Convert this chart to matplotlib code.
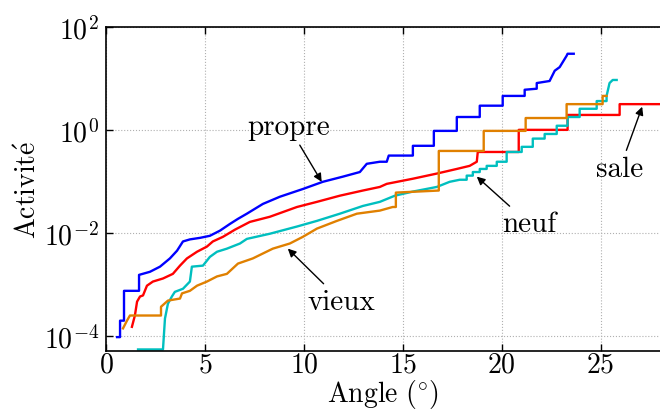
import numpy as np
import matplotlib
matplotlib.use("Agg")
import matplotlib.pyplot as plt

plt.rcParams['font.family'] = ['cmr10', 'DejaVu Serif']
plt.rcParams['mathtext.fontset'] = 'cm'
plt.rcParams['axes.formatter.use_mathtext'] = True
plt.rcParams['axes.unicode_minus'] = False

# Data: angle (degrees) and log10 of activity; repeated x values mark vertical jumps
propre_x = [0.56, 0.71, 0.71, 0.91, 0.91, 1.67, 1.67, 2.22, 2.73, 3.23, 3.59, 3.89, 4.24, 4.75, 5.25, 5.76,
            6.26, 6.67, 7.12, 7.93, 8.79, 9.95, 10.96, 11.97, 12.83, 13.18, 13.84, 14.19, 14.29, 15.51, 15.51,
            16.57, 16.57, 17.73, 17.73, 18.89, 18.89, 20.05, 20.05, 21.16, 21.16, 21.77, 21.77, 22.42, 22.68,
            22.93, 23.28, 23.33, 23.64]
propre_log = [-4.03, -4.03, -3.71, -3.71, -3.13, -3.13, -2.82, -2.76, -2.66, -2.50, -2.35, -2.17, -2.13, -2.10,
              -2.06, -1.96, -1.83, -1.73, -1.63, -1.44, -1.30, -1.15, -1.01, -0.91, -0.82, -0.66, -0.62, -0.62,
              -0.50, -0.50, -0.31, -0.31, -0.02, -0.02, 0.25, 0.25, 0.47, 0.47, 0.66, 0.66, 0.78, 0.80, 0.91,
              0.95, 1.15, 1.22, 1.44, 1.48, 1.48]

sale_x = [1.31, 1.46, 1.57, 1.72, 1.87, 2.07, 2.37, 2.88, 3.38, 3.74, 4.09, 4.60, 5.10, 5.40, 5.91, 6.52, 7.27,
          8.28, 9.65, 10.66, 11.82, 12.98, 13.84, 14.19, 15.51, 16.72, 17.73, 18.38, 18.74, 18.79, 20.86, 20.86,
          23.33, 23.33, 25.96, 25.96, 28.0]
sale_log = [-3.83, -3.61, -3.34, -3.24, -3.22, -3.03, -2.95, -2.89, -2.80, -2.64, -2.50, -2.37, -2.27, -2.17,
            -2.08, -1.94, -1.79, -1.69, -1.50, -1.40, -1.28, -1.18, -1.11, -1.05, -0.95, -0.85, -0.76, -0.70,
            -0.62, -0.43, -0.43, 0.0, 0.0, 0.29, 0.29, 0.50, 0.50]

neuf_x = [1.62, 2.88, 2.98, 3.13, 3.33, 3.48, 3.89, 4.24, 4.34, 4.90, 5.25, 5.61, 6.11, 6.77, 7.12, 8.28, 9.65,
          10.66, 11.82, 12.98, 13.84, 14.60, 15.51, 16.72, 17.37, 17.88, 18.23, 18.23, 18.54, 18.54, 18.89,
          18.89, 19.24, 19.24, 19.75, 19.75, 20.25, 20.25, 21.01, 21.01, 21.57, 21.57, 22.17, 22.17, 22.78,
          22.78, 23.33, 23.33, 23.94, 23.94, 24.80, 24.80, 25.30, 25.30, 25.45, 25.61, 25.81]
neuf_log = [-4.27, -4.27, -3.67, -3.38, -3.24, -3.15, -3.09, -2.95, -2.66, -2.64, -2.47, -2.37, -2.31, -2.21,
            -2.12, -2.02, -1.88, -1.77, -1.63, -1.48, -1.40, -1.28, -1.20, -1.11, -1.01, -0.97, -0.97, -0.89,
            -0.89, -0.82, -0.82, -0.76, -0.76, -0.70, -0.70, -0.62, -0.62, -0.43, -0.43, -0.33, -0.33, -0.17,
            -0.17, -0.08, -0.08, 0.08, 0.08, 0.25, 0.25, 0.41, 0.41, 0.56, 0.56, 0.66, 0.91, 0.97, 0.97]

vieux_x = [0.86, 1.06, 1.21, 2.78, 2.78, 3.13, 3.74, 3.84, 4.24, 4.60, 5.10, 5.61, 6.11, 6.67, 7.42, 8.43, 9.29,
           9.95, 10.66, 11.67, 12.68, 13.84, 14.49, 14.65, 14.65, 16.82, 16.82, 19.09, 19.09, 21.21, 21.21,
           23.28, 23.28, 25.10, 25.10, 25.30]
vieux_log = [-3.86, -3.71, -3.61, -3.61, -3.44, -3.32, -3.28, -3.18, -3.13, -3.03, -2.95, -2.85, -2.80, -2.60,
             -2.50, -2.31, -2.21, -2.08, -1.92, -1.77, -1.63, -1.57, -1.50, -1.50, -1.22, -1.18, -0.41, -0.41,
             -0.02, -0.02, 0.23, 0.23, 0.50, 0.50, 0.66, 0.66]

series = [
    ("propre", propre_x, propre_log, "#0000ff"),
    ("sale", sale_x, sale_log, "#ff0000"),
    ("neuf", neuf_x, neuf_log, "#00bfbf"),
    ("vieux", vieux_x, vieux_log, "#e08000"),
]

# annotation: label, text position (x, log10), arrow tip (x, log10)
annotations = [
    ("propre", (9.24, 0.06), (10.9, -1.01)),
    ("neuf", (21.4, -1.83), (18.74, -0.91)),
    ("sale", (25.96, -0.76), (27.1, 0.45)),
    ("vieux", (11.92, -3.34), (9.19, -2.31)),
]

fig = plt.figure(figsize=(6.6, 4.1), dpi=100)
ax = fig.add_axes([106 / 660, 58 / 410, 1 - 106 / 660, (352 - 28) / 410])

for name, xs, ls, col in series:
    ax.plot(xs, np.power(10.0, ls), color=col, lw=1.7)

for name, (tx, tl), (px, pl) in annotations:
    ax.annotate(name, xy=(px, 10 ** pl), xytext=(tx, 10 ** tl), ha='center', va='center', fontsize=21,
                arrowprops=dict(arrowstyle='-|>', color='black', lw=1.0, mutation_scale=12, shrinkA=2, shrinkB=0))

ax.set_yscale('log')
ax.set_xlim(0, 28)
ax.set_ylim(10 ** -4.3, 1e2)
ax.set_xticks([0, 5, 10, 15, 20, 25])
ax.set_yticks([1e-4, 1e-2, 1e0, 1e2])
ax.yaxis.set_minor_locator(matplotlib.ticker.NullLocator())
ax.tick_params(direction='in', top=True, right=False, labelsize=20, length=5, width=1)
ax.tick_params(axis='x', pad=0)
ax.tick_params(axis='y', pad=5)
ax.grid(True, which='major', linestyle=':', color='#b0b0b0', lw=0.8)
ax.spines['right'].set_visible(False)
for s in ['left', 'bottom', 'top']:
    ax.spines[s].set_linewidth(1.2)

ax.set_xlabel(r'$\mathrm{Angle}\ (^{\circ})$', fontsize=20, labelpad=0)
ax.set_ylabel(r'$\mathrm{Activit\acute{e}}$', fontsize=20, labelpad=1)

fig.savefig('out.png', dpi=100)
